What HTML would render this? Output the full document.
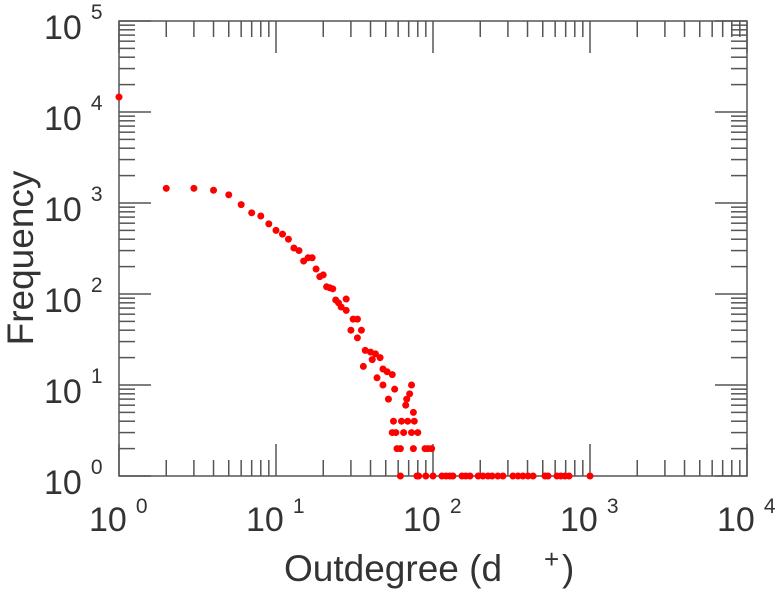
<!DOCTYPE html>
<html><head><meta charset="utf-8"><style>
body{margin:0;background:#fff;}
svg{display:block;font-family:"Liberation Sans",sans-serif;}
</style></head><body>
<svg id="chart" width="779" height="600" viewBox="0 0 779 600" xmlns="http://www.w3.org/2000/svg">
<g id="axes"></g>
<g id="pts"></g>
<text transform="translate(33,258) rotate(-90)" text-anchor="middle" font-size="37" fill="#333">Frequency</text>
<text x="284" y="581" font-size="37" fill="#333">Outdegree (d</text>
<text x="544" y="568" font-size="26" fill="#333">+</text>
<text x="562" y="581" font-size="37" fill="#333">)</text>
</svg>
<script>
const degrees=[1,2,3,4,5,6,7,8,9,10,11,12,13,14,15,16,17,18,19,20,21,22,23,24,25,26,28,28,31,33,30,35,33,37,40,43,46,41,36,48,51,55,44,48,57,73,71,68,67,52,75,56,63,69,76,55,58,65,73,80,59,62,75,89,93,98,
62,79,81,90,100,114,121,128,134,153,162,172,194,208,224,238,259,279,323,348,374,403,434,517,540,616,653,693,735,1000];
const freqs=[14600,1450,1450,1380,1230,960,780,720,590,500,455,400,320,300,230,250,250,188,155,162,120,117,114,86,80,72,88,66,53,53,40,40,33,24,23,22,20,19,16,15,14,13,12,10,9,10,8,7,6,7,5,4,4,4,4,3,3,3,3,3,2,2,2,2,2,2,
1,1,1,1,1,1,1,1,1,1,1,1,1,1,1,1,1,1,1,1,1,1,1,1,1,1,1,1,1,1];
const xTickLabels=["0","1","2","3","4"];
const yTickLabels=["0","1","2","3","4","5"];
const L=119,R=747,T=21,B=476;
const xs=v=>L+Math.log10(v)*(R-L)/4;
const ys=v=>B-Math.log10(v)*(B-T)/5;
const NS="http://www.w3.org/2000/svg";
const ax=document.getElementById('axes');
function ln(x1,y1,x2,y2,w){const l=document.createElementNS(NS,'line');l.setAttribute('x1',x1);l.setAttribute('y1',y1);l.setAttribute('x2',x2);l.setAttribute('y2',y2);l.setAttribute('stroke','#555');l.setAttribute('stroke-width',w||1.5);ax.appendChild(l);return l;}
const fr=document.createElementNS(NS,'rect');
fr.setAttribute('x',L);fr.setAttribute('y',T);fr.setAttribute('width',R-L);fr.setAttribute('height',B-T);fr.setAttribute('fill','none');fr.setAttribute('stroke','#555');fr.setAttribute('stroke-width',1.5);


ax.appendChild(fr);
for(let d=0;d<=4;d++){
  for(let m=1;m<=9;m++){
    if(d==4&&m>1)break;
    const x=xs(Math.pow(10,d)*m);const len=m==1?32:16;
    ln(x,B,x,B-len);ln(x,T,x,T+len);
  }
  const t=document.createElementNS(NS,'text');
  
  
  t.setAttribute('x',xs(Math.pow(10,d))-30);t.setAttribute('y',531);t.setAttribute('font-size','34');t.setAttribute('fill','#333');
  t.innerHTML='10<tspan dx="9" dy="-18" font-size="21">'+xTickLabels[d]+'</tspan>';
  ax.appendChild(t);
}
for(let d=0;d<=5;d++){
  for(let m=1;m<=9;m++){
    if(d==5&&m>1)break;
    const y=ys(Math.pow(10,d)*m);const len=m==1?32:16;
    ln(L,y,L+len,y);ln(R,y,R-len,y);
  }
  const t=document.createElementNS(NS,'text');
  
  
  t.setAttribute('x',44);t.setAttribute('y',ys(Math.pow(10,d))+18);t.setAttribute('font-size','34');t.setAttribute('fill','#333');
  t.innerHTML='10<tspan dx="9" dy="-20" font-size="21">'+yTickLabels[d]+'</tspan>';
  ax.appendChild(t);
}
const pg=document.getElementById('pts');
for(let i=0;i<degrees.length;i++){
  const c=document.createElementNS(NS,'circle');
  
  
  c.setAttribute('cx',xs(degrees[i]));c.setAttribute('cy',ys(freqs[i]));c.setAttribute('r',3.5);c.setAttribute('fill','#ff0000');
  pg.appendChild(c);
}
</script>
</body></html>
